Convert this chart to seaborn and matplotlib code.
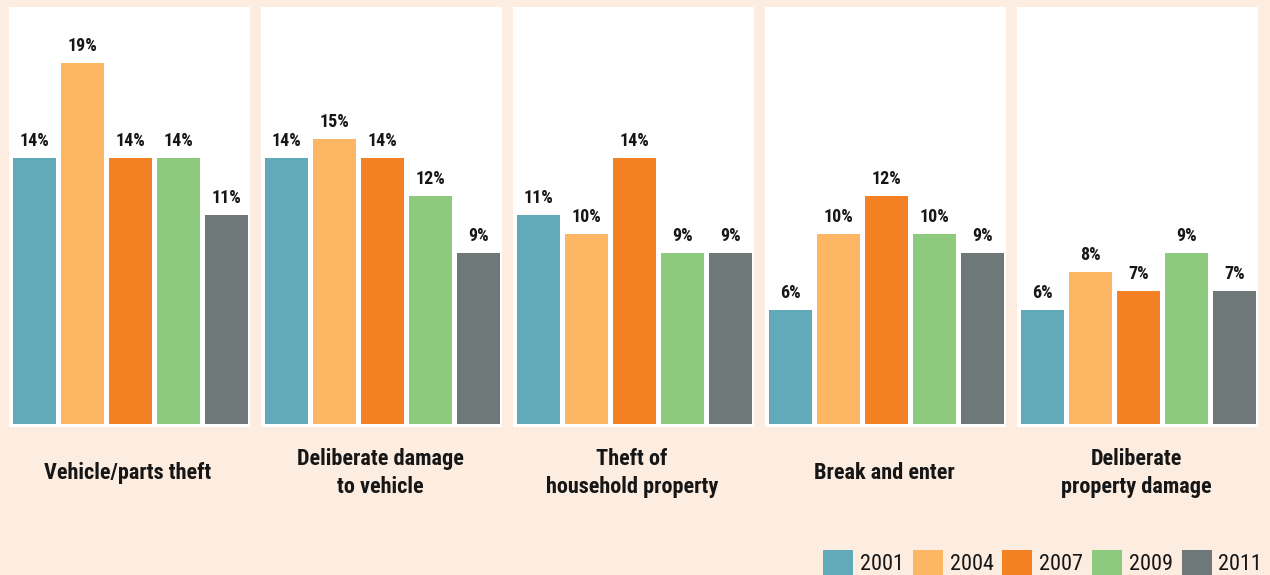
import matplotlib
matplotlib.use("Agg")
import matplotlib.pyplot as plt
import seaborn as sns
import pandas as pd
from matplotlib.patches import Patch

# Survey categories and the share of households reporting each, by year
categories = [
    "Vehicle/parts theft",
    "Deliberate damage\nto vehicle",
    "Theft of\nhousehold property",
    "Break and enter",
    "Deliberate\nproperty damage",
]
years = ["2001", "2004", "2007", "2009", "2011"]
vehicle_parts_theft = [14, 19, 14, 14, 11]
damage_to_vehicle = [14, 15, 14, 12, 9]
household_theft = [11, 10, 14, 9, 9]
break_and_enter = [6, 10, 12, 10, 9]
property_damage = [6, 8, 7, 9, 7]
year_colors = ["#62AABA", "#FDB764", "#F38022", "#8ECA7E", "#6F7878"]

series = [vehicle_parts_theft, damage_to_vehicle, household_theft,
          break_and_enter, property_damage]

BG = "#FDECE0"
INK = "#161616"

sns.set_theme(style="white")
plt.rcParams["font.family"] = ["Roboto Condensed", "Liberation Sans Narrow",
                               "Roboto", "DejaVu Sans"]

W, H = 1270, 575
fig = plt.figure(figsize=(W / 100, H / 100), dpi=100, facecolor=BG)
palette = dict(zip(years, year_colors))

px_per_unit = 19.0
for i, (title, vals) in enumerate(zip(categories, series)):
    left_px = 9 + 252 * i
    ax = fig.add_axes([left_px / W, 148 / H, 241 / W, 420 / H])
    ax.set_facecolor("white")
    df = pd.DataFrame({"year": years, "pct": vals})
    sns.barplot(data=df, x="year", y="pct", hue="year", palette=palette,
                order=years, hue_order=years, width=0.9, legend=False,
                saturation=1, ax=ax, edgecolor="none")
    ax.set_ylim(-3 / px_per_unit, 417 / px_per_unit)
    ax.set_xlim(-25.5 / 48, (241 - 25.5) / 48)
    for c in ax.containers:
        ax.bar_label(c, fmt="%d%%", padding=6, fontsize=13,
                     fontweight="bold", color=INK)
    ax.set_xticks([])
    ax.set_yticks([])
    ax.set_xlabel("")
    ax.set_ylabel("")
    for s in ax.spines.values():
        s.set_visible(False)
    fig.text((left_px + 119) / W, 1 - 473 / H, title, ha="center",
             va="center", ma="center", fontsize=16, fontweight="bold",
             color=INK, linespacing=1.3)

handles = [Patch(facecolor=c, edgecolor="none") for c in year_colors]
fig.legend(handles, years, loc="lower right", ncol=5, frameon=False,
           bbox_to_anchor=(1262 / W, 0), borderaxespad=0, borderpad=0,
           fontsize=16, handlelength=1.35, handleheight=1.35,
           handletextpad=0.3, columnspacing=0.4, labelcolor=INK)

fig.savefig("out.png", dpi=100, facecolor=BG)
